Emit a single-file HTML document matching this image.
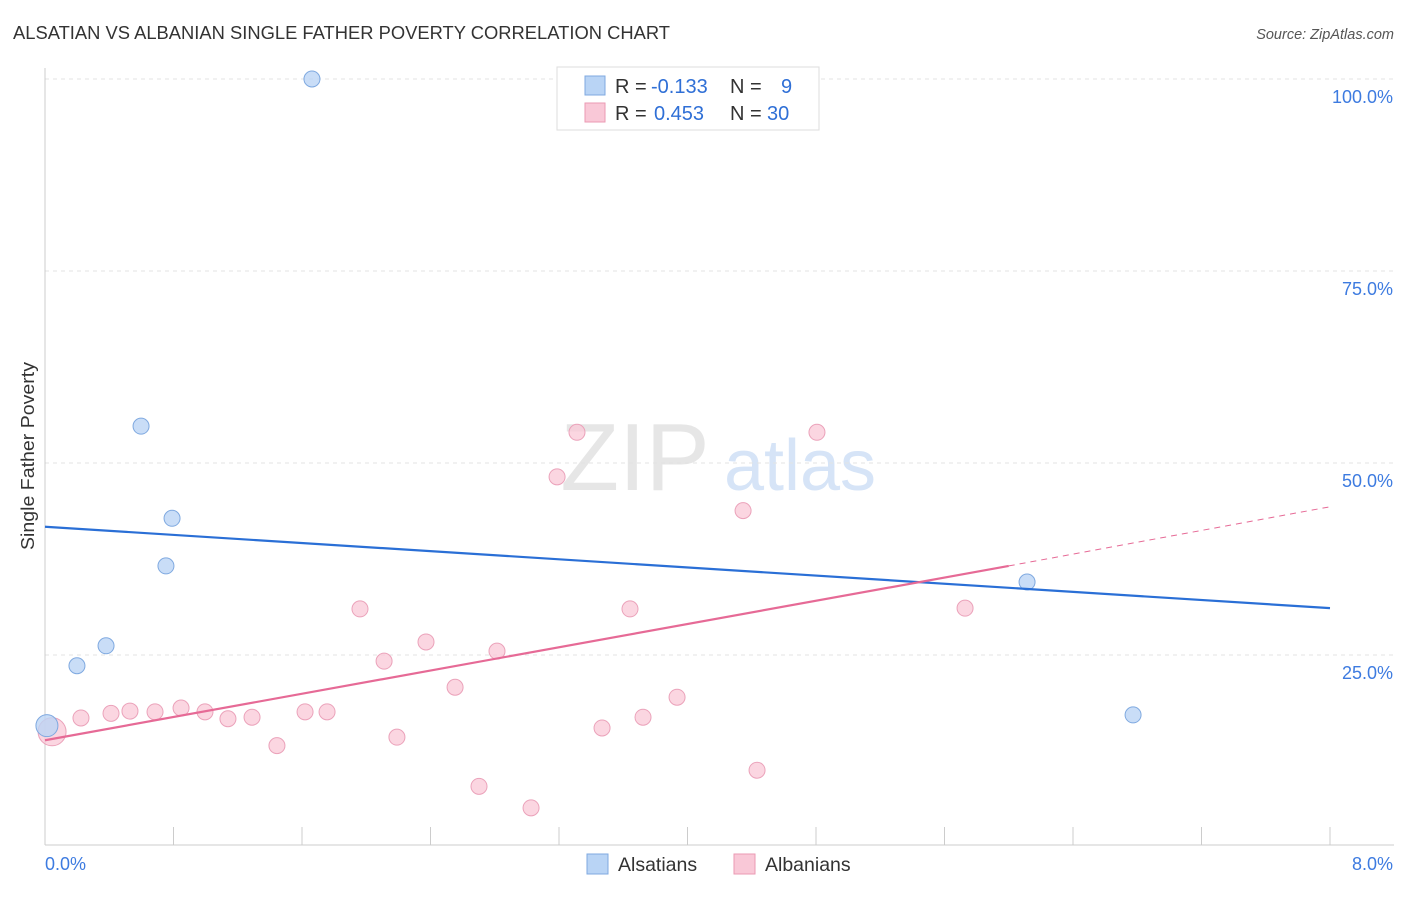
<!DOCTYPE html>
<html><head><meta charset="utf-8"><style>
body{margin:0;background:#fff;font-family:"Liberation Sans",sans-serif}
svg text{font-family:"Liberation Sans",sans-serif}
</style></head><body>
<svg id="c" width="1406" height="892">
<text x="13" y="39" font-size="18" fill="#333" textLength="657" lengthAdjust="spacingAndGlyphs">ALSATIAN VS ALBANIAN SINGLE FATHER POVERTY CORRELATION CHART</text>
<text x="1394" y="39" font-size="14.5" fill="#555" font-style="italic" text-anchor="end">Source: ZipAtlas.com</text>
<text x="635" y="490" font-size="96" fill="#e6e6e6" font-family="Liberation Serif" text-anchor="middle">ZIP</text>
<text x="800" y="490" font-size="72" fill="#d6e4f7" text-anchor="middle">atlas</text>
<text transform="translate(34,456) rotate(-90)" font-size="18" fill="#333" text-anchor="middle" textLength="188" lengthAdjust="spacingAndGlyphs">Single Father Poverty</text>
<g id="grid"></g><g id="marks"></g>
<g>
<rect x="557" y="67" width="262" height="63" fill="#fff" stroke="#ddd"/>
<rect x="585" y="76" width="20" height="19" fill="#b9d4f5" stroke="#7fa9e0"/>
<rect x="585" y="103" width="20" height="19" fill="#f9c8d7" stroke="#eb9ab3"/>
<text x="615" y="93" font-size="20" fill="#333">R = <tspan x="651" fill="#2f6fd6">-0.133</tspan><tspan x="730">N =</tspan><tspan x="781" fill="#2f6fd6">9</tspan></text>
<text x="615" y="120" font-size="20" fill="#333">R = <tspan x="654" fill="#2f6fd6">0.453</tspan><tspan x="730">N =</tspan><tspan x="767" fill="#2f6fd6">30</tspan></text>
</g>
<g>
<rect x="587" y="854" width="21" height="20" fill="#b9d4f5" stroke="#7fa9e0"/>
<text x="618" y="871" font-size="19.5" fill="#333">Alsatians</text>
<rect x="734" y="854" width="21" height="20" fill="#f9c8d7" stroke="#eb9ab3"/>
<text x="765" y="871" font-size="19.5" fill="#333">Albanians</text>
</g>
</svg>
<script>
const yTicks=[25,50,75,100];
const yTickLabels=["25.0%","50.0%","75.0%","100.0%"];
const xTickLabels=["0.0%","8.0%"];
const alsX=[1.662,0.598,0.791,0.753,0.380,0.199,6.114,6.774,0.012];
const alsY=[100.0,54.8,42.8,36.6,26.2,23.6,34.5,17.2,15.8];
const albX=[0.044,0.224,0.411,0.529,0.685,0.847,0.996,1.139,1.289,1.444,1.619,1.756,1.961,2.111,2.191,2.372,2.553,2.702,2.814,3.026,3.188,3.312,3.468,3.642,3.723,3.935,4.346,4.433,4.806,5.728];
const albY=[15.0,16.8,17.4,17.7,17.6,18.1,17.6,16.7,16.9,13.2,17.6,17.6,31.0,24.2,14.3,26.7,20.8,7.9,25.5,5.1,48.2,54.0,15.5,31.0,16.9,19.5,43.8,10.0,54.0,31.1];
const alsTrend=[41.7,31.1]; // y at x=0 and x=8
const albTrend=[13.9,36.6,44.3]; // y at x=0, x=6.0, x=8
const albTrendX=[0,6.0,8];
const NS="http://www.w3.org/2000/svg";
const sx=v=>45+v/8*1285, sy=v=>847-v*7.68;
function mk(t,a,p){const e=document.createElementNS(NS,t);for(const k in a)e.setAttribute(k,a[k]);p.appendChild(e);return e;}
const g=document.getElementById('grid'),m=document.getElementById('marks');
yTicks.forEach((t,i)=>{
 const l=mk('line',{x1:45,x2:1394,y1:sy(t),y2:sy(t),stroke:'#e3e3e3','stroke-dasharray':'4,4'},g);
 
 
 const tx=mk('text',{x:1393,y:sy(t)+24,'font-size':18,fill:'#3d7be0','text-anchor':'end'},g);tx.textContent=yTickLabels[i];
 
 
});
let a=mk('line',{x1:45,x2:45,y1:68,y2:845,stroke:'#ccc'},g);


a=mk('line',{x1:45,x2:1394,y1:845,y2:845,stroke:'#ccc'},g);


for(let i=0;i<=10;i++){const t=mk('line',{x1:sx(i*0.8),x2:sx(i*0.8),y1:827,y2:845,stroke:'#ccc'},g);
 
 }
[[0,'start',45],[8,'end',1393]].forEach((d,i)=>{const t=mk('text',{x:d[2],y:870,'font-size':18,fill:'#3d7be0','text-anchor':d[1]},g);t.textContent=xTickLabels[i];
 
 });
albX.forEach((x,i)=>{const c=mk('circle',{cx:sx(x),cy:sy(albY[i]),r:i==0?14:8,fill:'#f9c8d7','fill-opacity':0.75,stroke:'#eba2ba'},m);
 
 });
alsX.forEach((x,i)=>{const c=mk('circle',{cx:sx(x),cy:sy(alsY[i]),r:i==8?11:8,fill:'#bcd5f5','fill-opacity':0.8,stroke:'#7fa9e0'},m);
 
 });
let l=mk('line',{x1:sx(0),y1:sy(alsTrend[0]),x2:sx(8),y2:sy(alsTrend[1]),stroke:'#2a6fd6','stroke-width':2.2},m);


l=mk('line',{x1:sx(albTrendX[0]),y1:sy(albTrend[0]),x2:sx(albTrendX[1]),y2:sy(albTrend[1]),stroke:'#e66a96','stroke-width':2.2},m);


l=mk('line',{x1:sx(albTrendX[1]),y1:sy(albTrend[1]),x2:sx(albTrendX[2]),y2:sy(albTrend[2]),stroke:'#e66a96','stroke-width':1,'stroke-dasharray':'6,5'},m);


</script>
</body></html>
